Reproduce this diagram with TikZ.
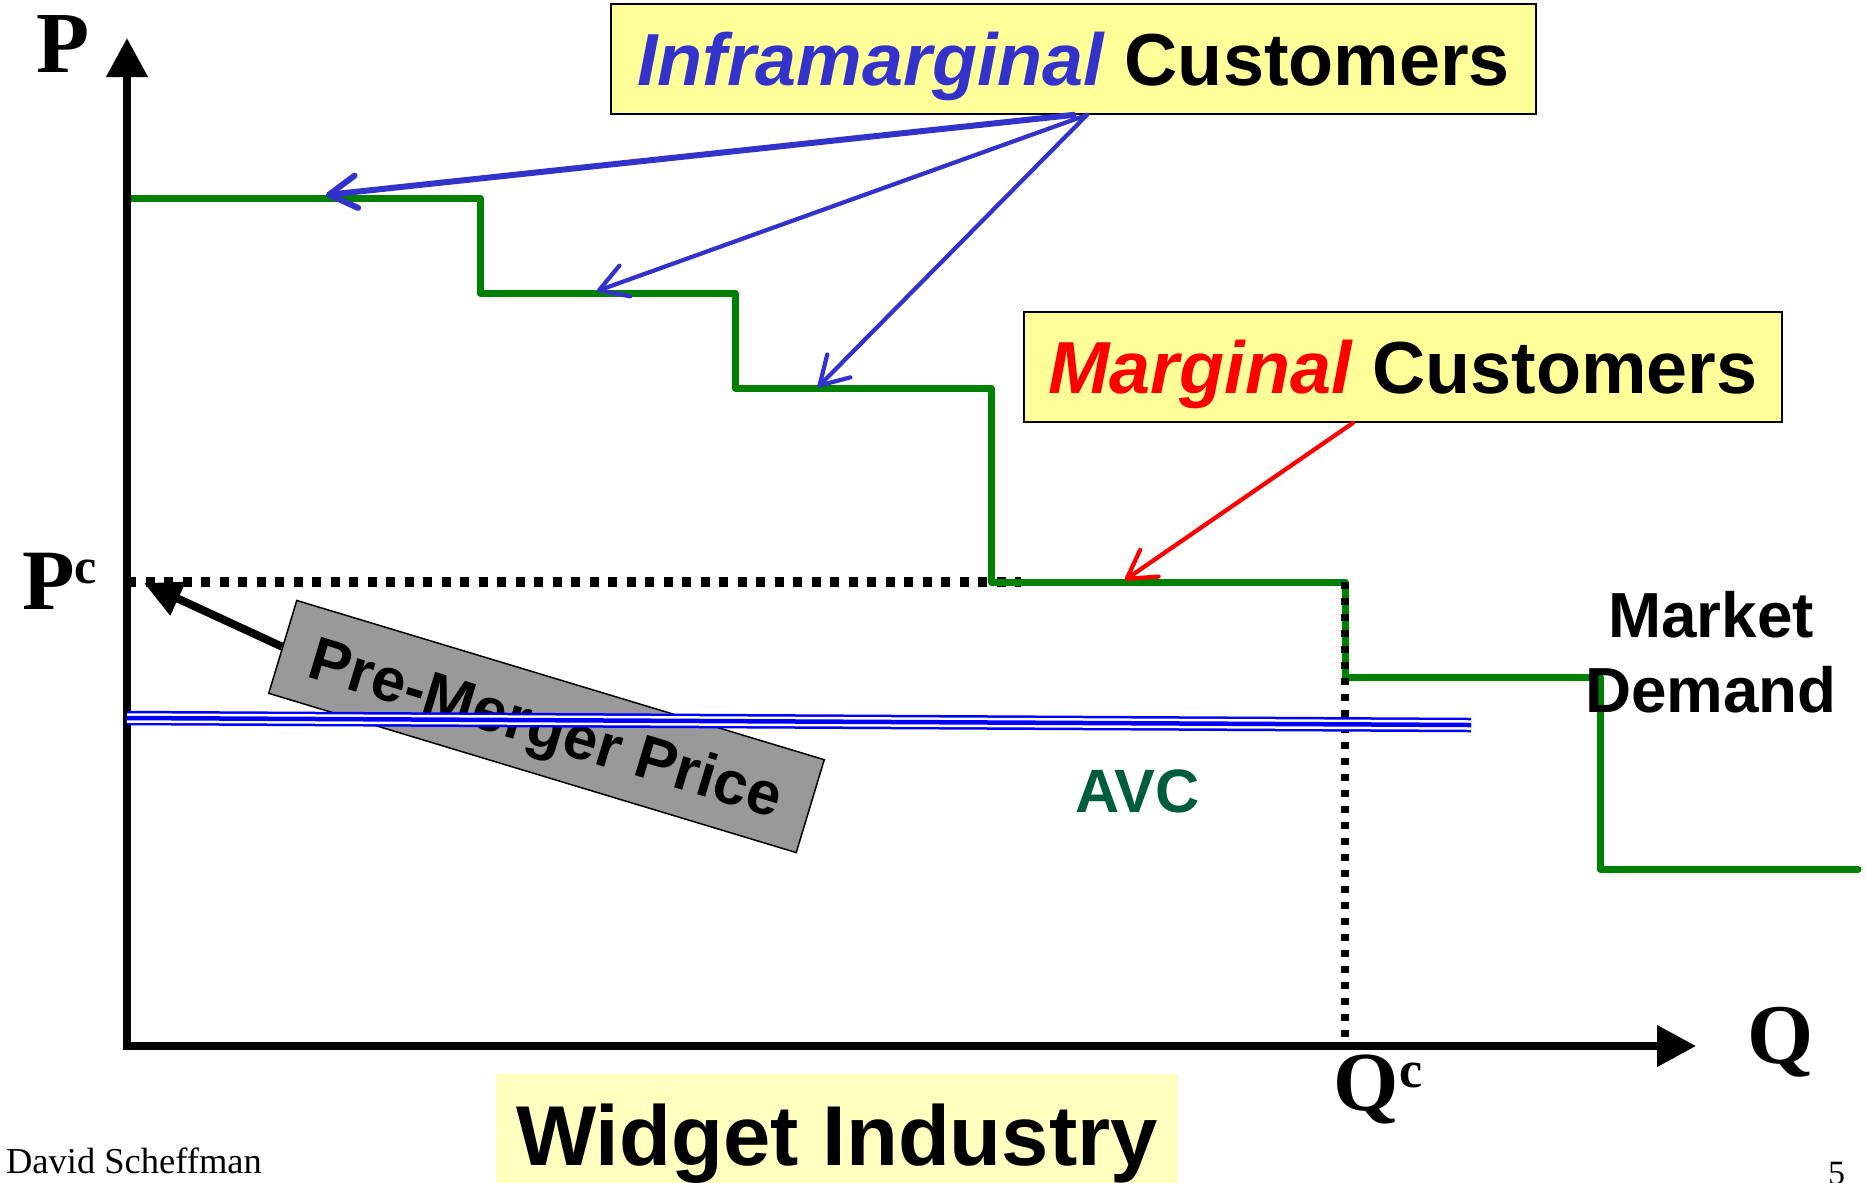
\documentclass[tikz,border=0pt]{standalone}
\usepackage{fontspec}
\setmainfont{Liberation Serif}
\newfontfamily\arialf{Liberation Sans}
\usetikzlibrary{arrows.meta}
\definecolor{ygreen}{RGB}{0,128,0}
\definecolor{iblue}{RGB}{51,51,204}
\definecolor{avcblue}{RGB}{0,0,255}
\definecolor{avcgreen}{RGB}{0,92,62}
\definecolor{boxyellow}{RGB}{255,255,153}
\definecolor{paleyellow}{RGB}{255,255,192}
\definecolor{pmgray}{RGB}{153,153,153}
\newcommand\fsz[1]{\fontsize{#1}{#1}\selectfont}
\begin{document}
\begin{tikzpicture}[x=0.4pt,y=-0.4pt,
  lbl/.style={inner sep=0pt, anchor=base},
  callout/.style={draw=black, line width=0.7pt, fill=boxyellow, inner sep=0pt,
    font=\arialf\bfseries\fsz{29.5}, text height=21.1pt, text depth=0pt, minimum height=44pt},
  demand/.style={draw=ygreen, line width=2.8pt, line join=round, line cap=round},
  barb/.style={-{Straight Barb[length=11pt,width=13pt,round]}, line cap=round},
  axis/.style={line width=3pt, {Triangle[length=15.6pt,width=16pt]}-{Triangle[length=15.6pt,width=16pt]}},
]
\path[use as bounding box] (0,0) rectangle (1866,1182);
\clip (0,0) rectangle (1866,1182);

% callout boxes
\node[callout, minimum width=370pt] (ib) at (1073.5,59) {\textcolor{iblue}{\itshape Inframarginal} Customers};
\node[callout, minimum width=303.2pt] (mc) at (1403,367) {\textcolor{red}{\itshape Marginal} Customers};

% dotted price line
\draw[line width=4pt, dash pattern=on 3.6pt off 3.8pt] (127,582) -- (1021,582);

% demand steps
\draw[demand] (127,198) -| (480,293) -| (735,388) -| (991,582) -| (1345,677) -| (1600,869) -- (1858,869);

% dotted quantity line
\draw[line width=3.2pt, dash pattern=on 2.8pt off 3.6pt] (1345,582) -- (1345,1046);

% axes
\coordinate (O) at (127,1046);
\coordinate (ytop) at (127,38);
\coordinate (xend) at (1696,1046);
\draw[axis] (ytop) -- (O) -- (xend);

% pre-merger price box and arrow
\node[draw=black, line width=0.6pt, fill=pmgray, rotate=-16.8, minimum width=220.4pt,
  minimum height=38.8pt, inner sep=0pt, font=\arialf\bfseries\fsz{24.5},
  text height=17.5pt, text depth=0pt] (pm) at (546.5,726.5) {Pre-Merger Price};
\coordinate (pctip) at (144,583);
\draw[line width=3.2pt, -{Triangle[length=15pt,width=14pt]}] (pm.west) -- (pctip);

% AVC triple line
\draw[avcblue, line width=5.8pt] (127,718) -- (1471,725);
\draw[white, line width=3.8pt] (127,718) -- (1471,725);
\draw[avcblue, line width=1.8pt] (127,718) -- (1471,725);

% callout arrows
\coordinate (t1) at (326,195);
\coordinate (t2) at (597,291);
\coordinate (t3) at (818,387);
\coordinate (t4) at (1125,580);
\draw[barb, iblue, line width=2.4pt] (ib.south) -- (t1);
\draw[barb, iblue, line width=1.7pt] ([xshift=5.4pt]ib.south) -- (t2);
\draw[barb, iblue, line width=1.7pt] ([xshift=5.4pt]ib.south) -- (t3);
\draw[barb, red, line width=1.7pt] ([xshift=-20pt]mc.south) -- (t4);

% labels
\node[lbl, font=\arialf\bfseries\fsz{25.5}] (mkt) at (1711,637) {Market};
\node[lbl, font=\arialf\bfseries\fsz{25.5}] (dem) at (1711,712) {Demand};
\node[lbl, font=\arialf\bfseries\fsz{24.5}, text=avcgreen] (avc) at (1137.5,812) {AVC};
\node[lbl, font=\bfseries\fsz{34.8}] (plab) at (63.5,72) {P};
\node[lbl, font=\bfseries\fsz{34.4}] (pclab) at (59.5,609) {P\raisebox{10.4pt}{\fsz{20}c}};
\node[lbl, font=\bfseries\fsz{34}] (qlab) at (1781,1063) {Q};
\node[lbl, font=\bfseries\fsz{33.6}] (qclab) at (1378,1110) {Q\raisebox{9.2pt}{\fsz{20.8}c}};
\node[fill=paleyellow, minimum width=272.8pt, minimum height=49.2pt, inner sep=0pt,
  font=\arialf\bfseries\fsz{34}, text height=24.3pt, text depth=0pt] (wi) at (837,1135.5) {Widget Industry};
\node[lbl, font=\fsz{14.6}] (auth) at (134,1173) {David Scheffman};
\node[lbl, font=\fsz{13.6}] (pg) at (1836.5,1184) {5};
\end{tikzpicture}
\end{document}
